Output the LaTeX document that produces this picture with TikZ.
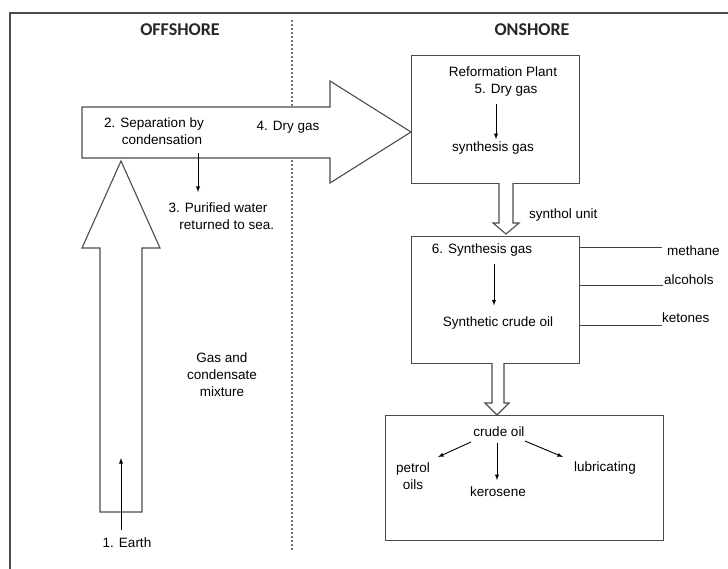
\documentclass[tikz,border=0pt]{standalone}
\usepackage{fontspec}
\setmainfont{Liberation Sans}
\newfontfamily\headfont{Carlito}
\tikzset{>=latex}
\usetikzlibrary{calc}
\colorlet{edge}{black!70}
\tikzset{
  txt/.style={font=\fontsize{13.5}{17}\selectfont, align=center, inner sep=1pt},
  head/.style={font=\headfont\bfseries\fontsize{18}{20}\selectfont, text=black!85},
  box/.style={draw=edge, line width=1.2pt, anchor=north west, inner sep=0pt},
  hollow/.style={draw=edge, line width=1.1pt, fill=white, line join=miter},
  lead/.style={draw=black!75, line width=0.9pt},
  flow/.style={->, line width=0.9pt},
}

\begin{document}
\begin{tikzpicture}[x=1pt,y=-1pt]
  \useasboundingbox (0,0) rectangle (728,569);
  % frame and divider
  \draw[edge, line width=1.2pt] (10,569) -- (10,13) -- (728,13);
  \draw[black!55, line width=1.2pt, dash pattern=on 2pt off 2pt] (292,20) -- (292,550);
  \node[head] (off) at (180,30) {OFFSHORE};
  \node[head] (on)  at (532,30) {ONSHORE};

  % boxes
  \node[box, minimum width=168pt, minimum height=128pt] (reform) at (411,55)  {};
  \node[box, minimum width=168pt, minimum height=127pt] (synbox) at (411,236) {};
  \node[box, minimum width=278pt, minimum height=125pt] (prodbox) at (385,415) {};

  % big hollow arrows
  \draw[hollow] (82,107) -- (330,107) -- (330,81) -- (reform.west |- 0,132)
        -- (330,183) -- (330,158) -- (82,158) -- cycle;
  \draw[hollow] (100,512) -- (100,248) -- (82,248) -- (121,161)
        -- (160,248) -- (142,248) -- (142,512) -- cycle;
  \draw[hollow] (499,183) -- (499,223) -- (493,223) -- (506,234)
        -- (519,223) -- (513,223) -- (513,183);
  \draw[hollow] (492,363) -- (492,403) -- (485,403) -- (497,415)
        -- (509,403) -- (504,403) -- (504,363);

  % offshore
  \node[txt] (earth) at (127,543) {1. Earth};
  \coordinate (earthtip) at (121,458);
  \draw[flow] (earth.north -| earthtip) ++(0,-7) -- (earthtip);
  \node[txt] (sep) at (154,131) {2. Separation by\\\hspace*{1.2em}condensation};
  \node[txt] (water) at (218,216) {3. Purified water\\\hspace*{1.3em}returned to sea.};
  \coordinate (watertop) at (198,192);
  \draw[flow] (watertop |- 0,153) -- (watertop);
  \node[txt] (dry4) at (288,127) {4. Dry gas};
  \node[txt] (mix) at (222,375) {Gas and\\condensate\\mixture};

  % reformation plant
  \node[txt] (plant) at (503,72) {Reformation Plant};
  \node[txt] (dry5) at (506,90) {5. Dry gas};
  \node[txt] (syngas) at (493,148) {synthesis gas};
  \draw[flow] (dry5.south) ++(-10,7) -- ++(0,35);
  \node[txt, anchor=west] (synthol) at (528,215) {synthol unit};

  % synthol unit
  \node[txt] (syn6) at (482,250) {6. Synthesis gas};
  \node[txt] (crude6) at (498,323) {Synthetic crude oil};
  \draw[flow] (syn6.south) ++(12,7) -- ++(0,41);
  \node[txt, anchor=west] (methane) at (666,251) {methane};
  \node[txt, anchor=west] (alcohols) at (663,280) {alcohols};
  \node[txt, anchor=west] (ketones) at (661,318) {ketones};
  \draw[lead] (synbox.east |- 0,247) -- (662,247);
  \draw[lead] (synbox.east |- 0,285) -- (663,285);
  \draw[lead] (synbox.east |- 0,325) -- (662,325);

  % products
  \node[txt] (crude) at (499,432) {crude oil};
  \node[txt] (petrol) at (413,476) {petrol\\oils};
  \node[txt] (kero) at (498,492) {kerosene};
  \node[txt] (lub) at (605,468) {lubricating};
  \draw[flow] (471,442) -- (438,457);
  \draw[flow] (crude.south) ++(-2,5) -- ++(0,37);
  \draw[flow] (525,441) -- (563,457);
\end{tikzpicture}
\end{document}
